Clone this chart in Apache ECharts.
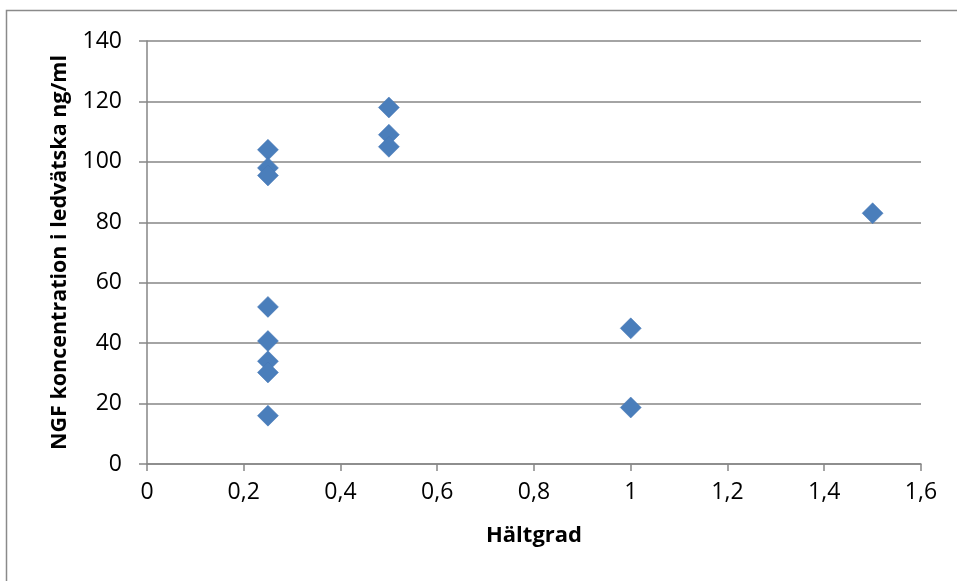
<!DOCTYPE html>
<html>
<head>
<meta charset="utf-8">
<script src="https://cdn.jsdelivr.net/npm/echarts@6/dist/echarts.min.js"></script>
<style>
  html, body { margin: 0; padding: 0; background: #fff; }
  #chart { width: 957px; height: 581px; }
</style>
</head>
<body>
<div id="chart"></div>
<script>
// Hältgrad (x) and NGF concentration in synovial fluid (y)
const haltgrad = [0.25, 0.25, 0.25, 0.25, 0.25, 0.25, 0.25, 0.25, 0.5, 0.5, 0.5, 1, 1, 1.5];
const ngf = [104, 98, 95.5, 52, 40.7, 34, 30.3, 16, 118, 109, 105, 44.9, 18.7, 83];

const xTicks = { min: 0, max: 1.6, interval: 0.2 };
const yTicks = { min: 0, max: 140, interval: 20 };

const points = haltgrad.map((x, i) => [x, ngf[i]]);

const FONT = '"Open Sans", "Liberation Sans", sans-serif';
const GRAY = '#868686';

const chart = echarts.init(document.getElementById('chart'), null, { renderer: 'canvas' });
chart.setOption({
  animation: false,
  backgroundColor: '#ffffff',
  textStyle: { fontFamily: FONT },
  graphic: [{
    type: 'rect',
    shape: { x: 6.5, y: 10.5, width: 1000, height: 1000 },
    style: { fill: 'none', stroke: '#8a8a8a', lineWidth: 1.5 },
    silent: true
  }],
  grid: { left: 147, right: 36, top: 41, bottom: 117, containLabel: false },
  xAxis: {
    type: 'value',
    min: xTicks.min, max: xTicks.max, interval: xTicks.interval,
    name: 'Hältgrad',
    nameLocation: 'middle',
    nameGap: 61,
    nameTextStyle: { fontFamily: FONT, fontWeight: 'bold', fontSize: 22, color: '#000' },
    axisLine: { show: true, lineStyle: { color: GRAY, width: 1.5 } },
    axisTick: { show: true, inside: false, length: 7, lineStyle: { color: GRAY, width: 1.5 } },
    axisLabel: {
      fontFamily: FONT, fontSize: 23, color: '#000', margin: 17,
      formatter: v => String(Math.round(v * 10) / 10).replace('.', ',')
    },
    splitLine: { show: false }
  },
  yAxis: {
    type: 'value',
    min: yTicks.min, max: yTicks.max, interval: yTicks.interval,
    name: 'NGF koncentration i ledvätska ng/ml',
    nameLocation: 'middle',
    nameGap: 76,
    nameRotate: 90,
    nameTextStyle: { fontFamily: FONT, fontWeight: 'bold', fontSize: 21.5, color: '#000' },
    axisLine: { show: true, lineStyle: { color: GRAY, width: 1.5 } },
    axisTick: { show: true, inside: false, length: 8, lineStyle: { color: GRAY, width: 1.5 } },
    axisLabel: { fontFamily: FONT, fontSize: 23, color: '#000', margin: 25 },
    splitLine: { show: true, lineStyle: { color: GRAY, width: 1.5 } }
  },
  series: [{
    type: 'scatter',
    data: points,
    symbol: 'diamond',
    symbolSize: [21, 21],
    itemStyle: { color: '#4a7ebb', opacity: 1, borderColor: '#4677b4', borderWidth: 0.5 }
  }]
});
</script>
</body>
</html>
